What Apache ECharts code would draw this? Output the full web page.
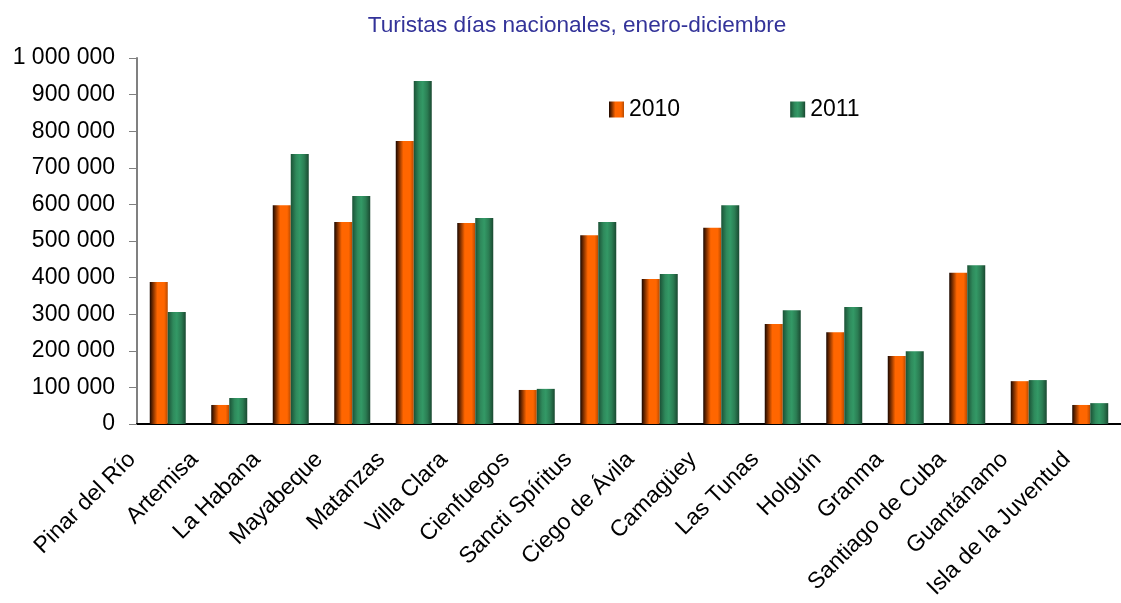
<!DOCTYPE html>
<html>
<head>
<meta charset="utf-8">
<script src="https://cdn.jsdelivr.net/npm/echarts@6/dist/echarts.min.js"></script>
<style>
  html, body { margin: 0; padding: 0; background: #fff; }
  #chart { width: 1121px; height: 603px; }
</style>
</head>
<body>
<div id="chart"></div>
<script>
// datos
const provincias = ['Pinar del Río', 'Artemisa', 'La Habana', 'Mayabeque', 'Matanzas', 'Villa Clara',
  'Cienfuegos', 'Sancti Spíritus', 'Ciego de Ávila', 'Camagüey', 'Las Tunas', 'Holguín',
  'Granma', 'Santiago de Cuba', 'Guantánamo', 'Isla de la Juventud']
const anios = ['2010', '2011']
const valores2010 = [388000, 52000, 598000, 552000, 773000, 549000, 93000, 516000, 396000, 536000, 273000, 251000, 186000, 413000, 117000, 52000]
const valores2011 = [306000, 71000, 738000, 623000, 937000, 563000, 96000, 552000, 410000, 598000, 311000, 320000, 199000, 434000, 120000, 57000]

const fuente = "'Liberation Sans', Arial, sans-serif"

// degradado horizontal tipo cilindro
function cilindro (stops) {
  return new echarts.graphic.LinearGradient(0, 0, 1, 0, stops)
}
const naranja = cilindro([
  { offset: 0, color: '#1a0700' },
  { offset: 0.15, color: '#6b2800' },
  { offset: 0.42, color: '#ff6600' },
  { offset: 0.8, color: '#ff6600' },
  { offset: 1, color: '#b84a00' }
])
const verde = cilindro([
  { offset: 0, color: '#1b5236' },
  { offset: 0.3, color: '#2f8a5c' },
  { offset: 0.5, color: '#339966' },
  { offset: 0.75, color: '#2b7d53' },
  { offset: 1, color: '#1a4931' }
])

const miles = v => String(v).replace(/\B(?=(\d{3})+(?!\d))/g, ' ')

const chart = echarts.init(document.getElementById('chart'))
const option = {
  animation: false,
  backgroundColor: '#ffffff',
  title: {
    text: 'Turistas días nacionales, enero-diciembre',
    left: 572,
    textAlign: 'center',
    top: 9,
    textStyle: { color: '#333399', fontSize: 22.6, fontWeight: 'normal', fontFamily: fuente }
  },
  legend: {
    data: anios,
    left: 604,
    top: 93,
    itemWidth: 15,
    itemHeight: 16,
    itemGap: 110,
    icon: 'rect',
    textStyle: { fontSize: 23, color: '#000', fontFamily: fuente }
  },
  // el segundo grid solo sirve para colocar las etiquetas un poco a la izquierda
  grid: [
    { left: 137, right: -13, top: 58, bottom: 179 },
    { left: 101, right: 23, top: 58, bottom: 179 }
  ],
  xAxis: [
    {
      type: 'category',
      data: provincias,
      axisLine: { lineStyle: { color: '#000', width: 2 } },
      axisTick: { show: false },
      axisLabel: { show: false }
    },
    {
      type: 'category',
      gridIndex: 1,
      data: provincias,
      axisLine: { show: false },
      axisTick: { show: false },
      axisLabel: { rotate: 45, interval: 0, margin: 32, fontSize: 23, color: '#000', fontFamily: fuente }
    }
  ],
  yAxis: [
    {
      type: 'value',
      min: 0,
      max: 1000000,
      interval: 100000,
      axisLine: { show: true, lineStyle: { color: '#808080', width: 2 } },
      axisTick: { show: true, length: 8, lineStyle: { color: '#808080' } },
      splitLine: { show: false },
      axisLabel: { margin: 22, fontSize: 23, color: '#000', fontFamily: fuente, formatter: miles }
    },
    { type: 'value', gridIndex: 1, show: false, min: 0, max: 1000000 }
  ],
  series: [
    { name: anios[0], type: 'bar', data: valores2010, barWidth: 18, barGap: '0%', itemStyle: { color: naranja } },
    { name: anios[1], type: 'bar', data: valores2011, barWidth: 18, barGap: '0%', itemStyle: { color: verde } }
  ]
}
chart.setOption(option)
</script>
</body>
</html>
